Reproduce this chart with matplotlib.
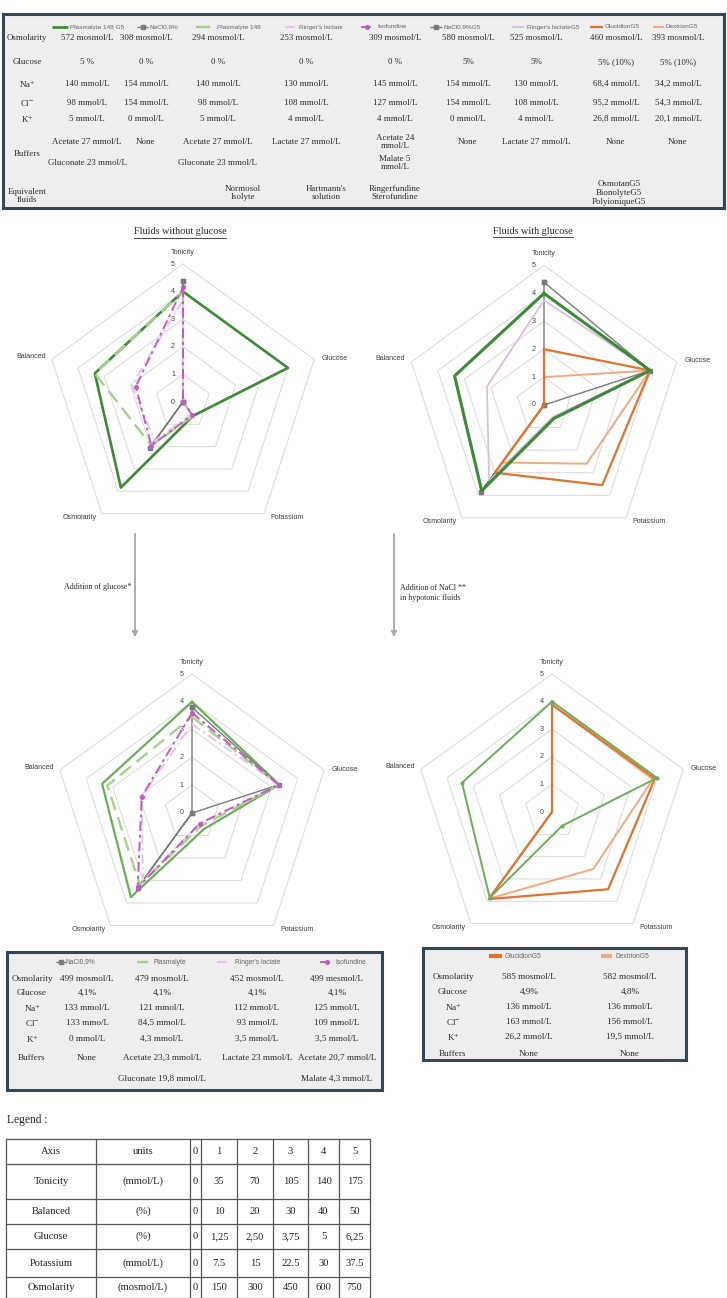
import matplotlib
matplotlib.use('Agg')
import matplotlib.pyplot as plt
import numpy as np
from matplotlib.patches import Rectangle

plt.rcParams['mathtext.fontset'] = 'stix'
SERIF = ['Liberation Serif', 'DejaVu Serif']
SANS = ['Liberation Sans', 'DejaVu Sans']

# ---------------- DATA ----------------
AXES = ["Tonicity", "Glucose", "Potassium", "Osmolarity", "Balanced"]

# Chart 1: Fluids without glucose
c1_plasmalyte148G5 = [4.0, 4.0, 0.62, 3.83, 3.36]
c1_nacl = [4.4, 0.0, 0.0, 2.05, 0.0]
c1_plasmalyte148 = [4.0, 0.0, 0.62, 1.95, 3.36]
c1_ringer = [3.7, 0.0, 0.53, 1.75, 1.95]
c1_isofundine = [4.15, 0.0, 0.58, 1.95, 1.8]

# Chart 2: Fluids with glucose
c2_plasmalyte148G5 = [4.0, 4.0, 0.6, 3.8, 3.37]
c2_naclG5 = [4.4, 4.0, 0.0, 3.87, 0.0]
c2_ringerG5 = [3.75, 4.0, 0.53, 3.35, 2.15]
c2_glucidionG5 = [2.0, 4.0, 3.55, 3.0, 0.0]
c2_dextrionG5 = [1.0, 4.0, 2.6, 2.55, 0.0]

# Chart 3: after addition of glucose
c3_reference = [4.0, 3.3, 0.72, 3.74, 3.4]
c3_nacl = [3.8, 3.28, 0.0, 3.33, 0.0]
c3_plasmalyte = [3.46, 3.28, 0.57, 3.19, 3.2]
c3_ringer = [3.2, 3.28, 0.47, 3.01, 1.9]
c3_isofundine = [3.6, 3.28, 0.47, 3.33, 1.9]

# Chart 4: after addition of NaCl in hypotonic fluids
c4_reference = [4.0, 4.0, 0.62, 3.84, 3.43]
c4_glucidion = [3.89, 3.92, 3.46, 3.9, 0.0]
c4_dextrion = [3.89, 3.84, 2.55, 3.88, 0.0]

# Top table
top_cols = ["Plasmalyte 148 G5", "NaCl0,9%", "Plasmalyte 148", "Ringer's lactate", "Isofundine",
            "NaCl0,9%G5", "Ringer's lactateG5", "GlucidionG5", "DextrionG5"]
top_osm = ["572 mosmol/L", "308 mosmol/L", "294 mosmol/L", "253 mosmol/L", "309 mosmol/L",
           "580 mosmol/L", "525 mosmol/L", "460 mosmol/L", "393 mosmol/L"]
top_glucose = ["5 %", "0 %", "0 %", "0 %", "0 %", "5%", "5%", "5% (10%)", "5% (10%)"]
top_na = ["140 mmol/L", "154 mmol/L", "140 mmol/L", "130 mmol/L", "145 mmol/L",
          "154 mmol/L", "130 mmol/L", "68,4 mmol/L", "34,2 mmol/L"]
top_cl = ["98 mmol/L", "154 mmol/L", "98 mmol/L", "108 mmol/L", "127 mmol/L",
          "154 mmol/L", "108 mmol/L", "95,2 mmol/L", "54,3 mmol/L"]
top_k = ["5 mmol/L", "0 mmol/L", "5 mmol/L", "4 mmol/L", "4 mmol/L",
         "0 mmol/L", "4 mmol/L", "26,8 mmol/L", "20,1 mmol/L"]
top_buffers = [["Acetate 27 mmol/L", "Gluconate 23 mmol/L"], ["None"],
               ["Acetate 27 mmol/L", "Gluconate 23 mmol/L"], ["Lactate 27 mmol/L"],
               ["Acetate 24\nmmol/L", "Malate 5\nmmol/L"], ["None"], ["Lactate 27 mmol/L"],
               ["None"], ["None"]]
top_equiv = ["", "", "Normosol\nIsolyte", "Hartmann's\nsolution", "Ringerfundine\nSterofundine",
             "", "", "OsmotanG5\nBionolyteG5\nPolyioniqueG5", ""]

# Bottom-left table
bl_cols = ["NaCl0,9%", "Plasmalyte", "Ringer's lactate", "Isofundine"]
bl_osm = ["499 mosmol/L", "479 mosmol/L", "452 mosmol/L", "499 mesmol/L"]
bl_glucose = ["4,1%", "4,1%", "4,1%", "4,1%"]
bl_na = ["133 mmol/L", "121 mmol/L", "112 mmol/L", "125 mmol/L"]
bl_cl = ["133 mmo/L", "84,5 mmol/L", "93 mmol/L", "109 mmol/L"]
bl_k = ["0 mmol/L", "4,3 mmol/L", "3,5 mmol/L", "3,5 mmol/L"]
bl_buffers = [["None"], ["Acetate 23,3 mmol/L", "Gluconate 19,8 mmol/L"],
              ["Lactate 23 mmol/L"], ["Acetate 20,7 mmol/L", "Malate 4,3 mmol/L"]]

# Bottom-right table
br_cols = ["GlucidionG5", "DextrionG5"]
br_osm = ["585 mosmol/L", "582 mosmol/L"]
br_glucose = ["4,9%", "4,8%"]
br_na = ["136 mmol/L", "136 mmol/L"]
br_cl = ["163 mmol/L", "156 mmol/L"]
br_k = ["26,2 mmol/L", "19,5 mmol/L"]
br_buffers = ["None", "None"]

# Legend table
leg_header = ["Axis", "units", "0", "1", "2", "3", "4", "5"]
leg_axes = ["Tonicity", "Balanced", "Glucose", "Potassium", "Osmolarity"]
leg_units = ["(mmol/L)", "(%)", "(%)", "(mmol/L)", "(mosmol/L)"]
leg_zero = ["0", "0", "0", "0", "0"]
leg_scale = [["35", "70", "105", "140", "175"],
             ["10", "20", "30", "40", "50"],
             ["1,25", "2,50", "3,75", "5", "6,25"],
             ["7.5", "15", "22.5", "30", "37.5"],
             ["150", "300", "450", "600", "750"]]

# ---------------- STYLES ----------------
GREEN_DARK = '#3b8a35'
GREEN_MID = '#6cae5c'
GREY = '#7a7a7a'
GREEN_LIGHT = '#a8d08d'
PINK = '#e6c4e6'
MAGENTA = '#c55ac5'
ORANGE = '#e2732f'
ORANGE_LIGHT = '#f2aa7c'

S_PG5 = dict(color=GREEN_DARK, lw=1.9)
S_NACL = dict(color=GREY, lw=1.0, marker='s', ms=2.6)
S_PL148 = dict(color=GREEN_LIGHT, lw=1.7, dashes=(6, 3))
S_RL = dict(color=PINK, lw=1.4, dashes=(5, 2, 1, 2))
S_ISO = dict(color=MAGENTA, lw=1.4, dashes=(5, 2, 1.5, 2), marker='o', ms=2.6)
S_NACLG5 = dict(color=GREY, lw=1.0, marker='s', ms=2.6)
S_RLG5 = dict(color='#dbbbdb', lw=1.2)
S_GLU = dict(color=ORANGE, lw=1.6)
S_DEX = dict(color=ORANGE_LIGHT, lw=1.4)

W, H = 727, 1298
fig = plt.figure(figsize=(W / 100, H / 100), dpi=100)
ax0 = fig.add_axes([0, 0, 1, 1])
ax0.set_xlim(0, W)
ax0.set_ylim(H, 0)
ax0.axis('off')

TXT = '#2b2b2b'
BOX_EDGE = '#33475a'
BOX_FILL = '#eeeeee'


def legend_item(x0, x1, xt, y, style, label, fs=5.0):
    st = dict(style)
    m = st.pop('marker', None)
    ms = st.pop('ms', None)
    ax0.plot([x0, x1], [y, y], solid_capstyle='butt', **st)
    if m:
        ax0.plot([(x0 + x1) / 2], [y], marker=m, ms=ms, color=st['color'], lw=0)
    ax0.text(xt, y, label, fontsize=fs, family=SANS, color='#666666', ha='left', va='center')


# ---------------- TOP TABLE ----------------
ax0.add_patch(Rectangle((3, 14), 721, 194, facecolor=BOX_FILL, edgecolor=BOX_EDGE, lw=2.2))
top_leg_pos = [(52, 68, 70), (137, 148, 150), (196, 212, 217), (285, 297, 299), (361, 373, 377),
               (430, 442, 444), (512, 524, 527), (590, 603, 605), (653, 664, 666)]
top_styles = [S_PG5, S_NACL, S_PL148, S_RL, S_ISO, S_NACLG5, S_RLG5, S_GLU, S_DEX]
for (x0, x1, xt), st, lab in zip(top_leg_pos, top_styles, top_cols):
    legend_item(x0, x1, xt, 27, st, lab, fs=4.6)

top_label_x = 27
top_col_x = [87, 146, 218, 306, 395, 468, 536, 616, 678]
FS_TOP = 6.4
for lab, vals, y in [("Osmolarity", top_osm, 38), ("Glucose", top_glucose, 62),
                     (r"Na$^{+}$", top_na, 84), (r"Cl$^{-}$", top_cl, 103), (r"K$^{+}$", top_k, 119)]:
    ax0.text(top_label_x, y, lab, fontsize=FS_TOP, family=SERIF, color=TXT, ha='center', va='center')
    for x, v in zip(top_col_x, vals):
        ax0.text(x, y, v, fontsize=FS_TOP, family=SERIF, color=TXT, ha='center', va='center')
ax0.text(top_label_x, 154, "Buffers", fontsize=FS_TOP, family=SERIF, color=TXT, ha='center', va='center')
for x, items in zip(top_col_x, top_buffers):
    for j, it in enumerate(items):
        ax0.text(x, 142 + 21 * j, it, fontsize=FS_TOP, family=SERIF, color=TXT, ha='center',
                 va='center', linespacing=1.0)
ax0.text(top_label_x, 196, "Equivalent\nfluids", fontsize=FS_TOP, family=SERIF, color=TXT,
         ha='center', va='center', linespacing=1.05)
equiv_dx = [0, 0, 25, 20, 0, 0, 0, 3, 0]
for x, dx, it in zip(top_col_x, equiv_dx, top_equiv):
    if it:
        ax0.text(x + dx, 193, it, fontsize=FS_TOP, family=SERIF, color=TXT, ha='center',
                 va='center', linespacing=1.15)


# ---------------- RADARS ----------------
LABEL_OFFS = [(0, 12), (21, 1), (23, -4), (-22, -4), (-21, 3)]
LABEL_HA = ['center', 'center', 'center', 'center', 'center']


def radar(cx, cy, R, series):
    ax = fig.add_axes([(cx - R) / W, (H - cy - R) / H, 2 * R / W, 2 * R / H], projection='polar')
    ax.set_theta_offset(np.pi / 2)
    ax.set_theta_direction(-1)
    ax.set_ylim(0, 5)
    ax.set_axis_off()
    th = np.linspace(0, 2 * np.pi, len(AXES), endpoint=False)
    thc = np.append(th, th[0])
    for r in range(1, 6):
        ax.plot(thc, [r] * (len(AXES) + 1), color='#d9d9d9', lw=0.7, clip_on=False, zorder=1)
    for z, (vals, st) in enumerate(series):
        ax.plot(thc, list(vals) + [vals[0]], clip_on=False, zorder=3 + z, **st)
    for t, lab, off in zip(th, AXES, LABEL_OFFS):
        ax.annotate(lab, xy=(t, 5), xytext=off, textcoords='offset pixels', ha='center',
                    va='center', fontsize=5.1, family=SANS, color='#404040', annotation_clip=False)
    for i in range(6):
        ax.annotate(str(i), xy=(0, i), xytext=(-10, 0), textcoords='offset pixels', ha='center',
                    va='center', fontsize=5.1, family=SANS, color='#404040', zorder=2,
                    annotation_clip=False)
    return ax


radar(183, 402, 138, [(c1_plasmalyte148G5, S_PG5), (c1_nacl, S_NACL), (c1_plasmalyte148, S_PL148),
                      (c1_ringer, S_RL), (c1_isofundine, S_ISO)])
radar(544, 405, 139.5, [(c2_naclG5, S_NACLG5), (c2_ringerG5, S_RLG5), (c2_dextrionG5, S_DEX),
                        (c2_glucidionG5, S_GLU), (c2_plasmalyte148G5, dict(color=GREEN_DARK, lw=2.2))])
radar(192, 813, 139, [(c3_reference, dict(color=GREEN_MID, lw=1.6)), (c3_nacl, S_NACL),
                      (c3_plasmalyte, S_PL148), (c3_ringer, S_RL), (c3_isofundine, S_ISO)])
radar(552, 812, 138, [(c4_dextrion, S_DEX), (c4_glucidion, S_GLU),
                      (c4_reference, dict(color=GREEN_MID, lw=1.4, marker='o', ms=2.0))])

# Titles (underlined)
t1 = ax0.text(180, 232, "Fluids without glucose", fontsize=7.3, family=SERIF, color=TXT,
              ha='center', va='center')
t2 = ax0.text(533, 231, "Fluids with glucose", fontsize=7.3, family=SERIF, color=TXT,
              ha='center', va='center')

# Arrows and annotations
for x in (135, 394):
    ax0.annotate('', xy=(x, 640), xytext=(x, 531),
                 arrowprops=dict(arrowstyle='-|>', color='#aaaaaa', lw=1.3, mutation_scale=8))
ax0.text(131, 587, "Addition of glucose*", fontsize=5.8, family=SERIF, color=TXT, ha='right', va='center')
ax0.text(400, 593, "Addition of NaCl **\nin hypotonic fluids", fontsize=5.8, family=SERIF, color=TXT,
         ha='left', va='center', linespacing=1.5)

# ---------------- BOTTOM-LEFT TABLE ----------------
ax0.add_patch(Rectangle((7, 952), 375, 138, facecolor=BOX_FILL, edgecolor=BOX_EDGE, lw=2.2))
bl_leg_pos = [(56, 66, 66), (137, 148, 153), (217, 229, 235), (320, 333, 335)]
for (x0, x1, xt), st, lab in zip(bl_leg_pos, [S_NACL, S_PL148, S_RL, S_ISO], bl_cols):
    legend_item(x0, x1, xt, 962, st, lab, fs=4.8)
bl_label_x = 32
bl_col_x = [87, 162, 257, 337]
FS_B = 6.6
for lab, vals, y in [("Osmolarity", bl_osm, 979), ("Glucose", bl_glucose, 993),
                     (r"Na$^{+}$", bl_na, 1008), (r"Cl$^{-}$", bl_cl, 1023), (r"K$^{+}$", bl_k, 1039)]:
    ax0.text(bl_label_x, y, lab, fontsize=FS_B, family=SERIF, color=TXT, ha='center', va='center')
    for x, v in zip(bl_col_x, vals):
        ax0.text(x, y, v, fontsize=FS_B, family=SERIF, color=TXT, ha='center', va='center')
ax0.text(bl_label_x, 1058, "Buffers", fontsize=FS_B, family=SERIF, color=TXT, ha='center', va='center')
for x, items in zip(bl_col_x, bl_buffers):
    for j, it in enumerate(items):
        ax0.text(x, 1058 + 21 * j, it, fontsize=FS_B, family=SERIF, color=TXT, ha='center', va='center')

# ---------------- BOTTOM-RIGHT TABLE ----------------
ax0.add_patch(Rectangle((423, 948), 263, 112, facecolor=BOX_FILL, edgecolor=BOX_EDGE, lw=2.2))
br_leg_pos = [(489, 502, 505), (601, 612, 615)]
for (x0, x1, xt), st, lab in zip(br_leg_pos, [dict(color=ORANGE, lw=3.0), dict(color=ORANGE_LIGHT, lw=3.0)], br_cols):
    legend_item(x0, x1, xt, 956, st, lab, fs=4.8)
br_label_x = 453
br_col_x = [529, 630]
for lab, vals, y in [("Osmolarity", br_osm, 977), ("Glucose", br_glucose, 992),
                     (r"Na$^{+}$", br_na, 1007), (r"Cl$^{-}$", br_cl, 1022), (r"K$^{+}$", br_k, 1037),
                     ("Buffers", br_buffers, 1054)]:
    ax0.text(br_label_x, y, lab, fontsize=FS_B, family=SERIF, color=TXT, ha='center', va='center')
    for x, v in zip(br_col_x, vals):
        ax0.text(x, y, v, fontsize=FS_B, family=SERIF, color=TXT, ha='center', va='center')

# ---------------- LEGEND TABLE ----------------
ax0.text(7, 1120, "Legend :", fontsize=8.3, family=SERIF, color='#222222', ha='left', va='center')
col_edges = [6, 96, 190, 201, 237, 273, 308, 339, 370]
row_edges = [1139, 1164, 1199, 1224, 1249, 1277, 1297.5]
for x in col_edges:
    ax0.plot([x, x], [row_edges[0], row_edges[-1]], color='#555555', lw=0.9)
for y in row_edges:
    ax0.plot([col_edges[0], col_edges[-1]], [y, y], color='#555555', lw=0.9)
centers_x = [(a + b) / 2 for a, b in zip(col_edges[:-1], col_edges[1:])]
centers_y = [(a + b) / 2 for a, b in zip(row_edges[:-1], row_edges[1:])]
FS_L = 7.6
for x, h in zip(centers_x, leg_header):
    ax0.text(x, centers_y[0], h, fontsize=FS_L, family=SERIF, color='#222222', ha='center', va='center')
for i in range(len(leg_axes)):
    row = [leg_axes[i], leg_units[i], leg_zero[i]] + leg_scale[i]
    for x, v in zip(centers_x, row):
        ax0.text(x, centers_y[i + 1], v, fontsize=FS_L, family=SERIF, color='#222222',
                 ha='center', va='center')

# underline titles
fig.canvas.draw()
inv = ax0.transData.inverted()
for t in (t1, t2):
    bb = t.get_window_extent()
    (xa, ya), (xb, yb) = inv.transform([(bb.x0, bb.y0), (bb.x1, bb.y1)])
    ax0.plot([xa, xb], [ya + 1.0, ya + 1.0], color=TXT, lw=0.6)

fig.savefig('out.png', dpi=100)
